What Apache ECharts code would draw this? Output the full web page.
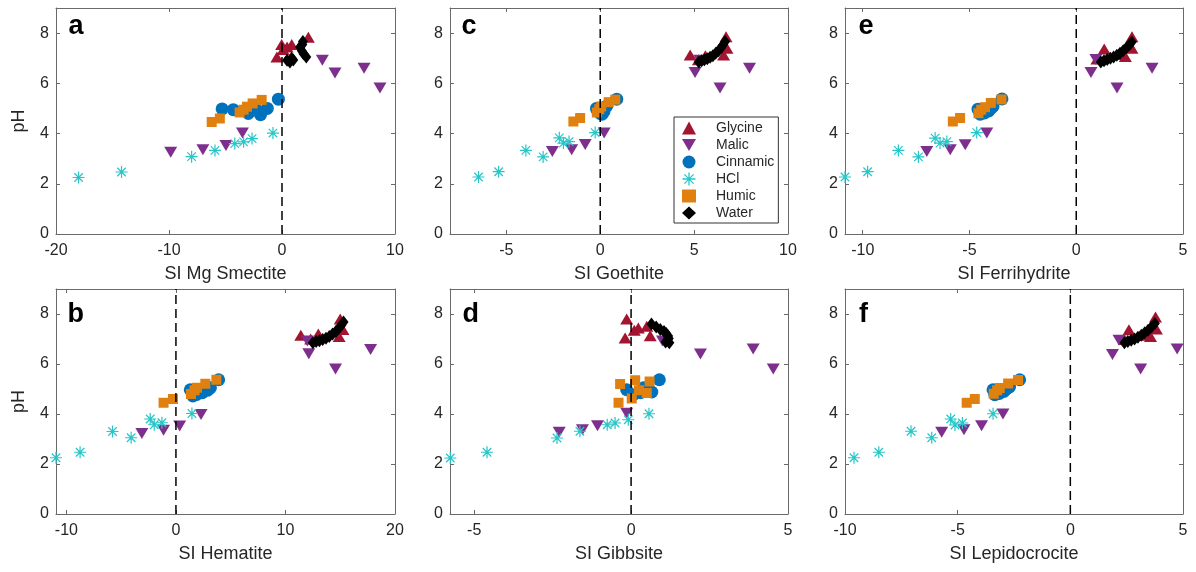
<!DOCTYPE html>
<html><head><meta charset="utf-8">
<script src="https://cdn.jsdelivr.net/npm/echarts@6/dist/echarts.min.js"></script>
<style>html,body{margin:0;padding:0;background:#fff}#c{width:1196px;height:572px}</style>
</head><body><div id="c"></div>
<script>
// ---------------- DATA (SI value, pH) ----------------
const seriesNames = ['Glycine', 'Malic', 'Cinnamic', 'HCl', 'Humic', 'Water'];
const yTicks = [0, 2, 4, 6, 8];
const yRange = [0, 9];
const zeroLine = [[0, 0], [0, 9]];

// panel a: SI Mg Smectite
const xRange_a = [-20, 10];
const xTicks_a = [-20, -10, 0, 10];
const glycine_a = [[-0.45,7.05],[0.1,7.35],[-0.03,7.55],[0.86,7.55],[0.45,7.45],[2.33,7.84]];
const malic_a = [[-9.85,3.26],[-7.0,3.36],[-4.96,3.52],[-3.5,4.02],[3.57,6.92],[4.69,6.41],[7.26,6.6],[8.67,5.81]];
const cinnamic_a = [[-5.3,4.98],[-4.31,4.95],[-2.98,4.8],[-2.3,4.95],[-1.9,4.75],[-1.3,5.0],[-0.32,5.37]];
const hcl_a = [[-18.0,2.25],[-14.2,2.47],[-8.0,3.08],[-5.93,3.33],[-4.18,3.6],[-3.4,3.67],[-2.65,3.8],[-0.8,4.02]];
const humic_a = [[-6.22,4.46],[-5.5,4.6],[-3.75,4.84],[-3.4,4.95],[-3.1,5.07],[-2.6,5.2],[-1.8,5.34]];
const water_a = [[0.45,6.92],[0.7,6.85],[1.0,6.93],[0.85,7.0],[2.15,7.05],[1.9,7.18],[1.75,7.3],[1.6,7.45],[1.8,7.55],[1.85,7.67]];

// panel b: SI Hematite
const xRange_b = [-10.95, 20];
const xTicks_b = [-10, 0, 10, 20];
const glycine_b = [[11.4,7.15],[12.3,7.0],[13.0,7.2],[14.9,7.1],[15.25,7.38],[15.0,7.8]];
const malic_b = [[-3.11,3.22],[-1.13,3.35],[0.34,3.52],[2.29,3.98],[12.0,6.92],[12.13,6.41],[14.57,5.8],[17.77,6.58]];
const cinnamic_b = [[1.31,4.97],[1.55,4.72],[1.9,4.78],[2.4,4.85],[2.9,4.95],[3.15,5.05],[3.9,5.37]];
const hcl_b = [[-10.95,2.25],[-8.75,2.47],[-4.09,3.05],[-5.79,3.3],[-1.98,3.57],[-1.28,3.65],[-2.35,3.8],[1.46,4.02]];
const humic_b = [[-1.13,4.45],[-0.27,4.6],[1.37,4.8],[1.7,4.95],[1.92,5.05],[2.68,5.21],[3.69,5.37]];
const water_b = [[12.5,6.85],[12.8,6.9],[13.1,6.93],[13.4,6.98],[13.7,7.03],[14.0,7.1],[14.3,7.2],[14.6,7.3],[14.85,7.42],[15.1,7.55],[15.3,7.68]];

// panel c: SI Goethite
const xRange_c = [-8, 10];
const xTicks_c = [-5, 0, 5, 10];
const glycine_c = [[4.79,7.13],[5.23,6.94],[5.6,7.1],[6.57,7.13],[6.75,7.4],[6.7,7.86]];
const malic_c = [[-2.55,3.29],[-1.52,3.36],[-0.8,3.56],[0.21,4.02],[5.3,6.92],[5.05,6.43],[6.38,5.81],[7.95,6.6]];
const cinnamic_c = [[-0.2,5.0],[-0.15,4.93],[0.0,4.8],[0.1,4.77],[0.2,4.88],[0.35,5.1],[0.88,5.37]];
const hcl_c = [[-6.48,2.27],[-5.41,2.48],[-3.04,3.07],[-3.96,3.33],[-1.96,3.62],[-1.66,3.68],[-2.18,3.83],[-0.27,4.04]];
const humic_c = [[-1.43,4.48],[-1.07,4.62],[-0.18,4.84],[-0.05,4.97],[0.05,5.08],[0.45,5.25],[0.8,5.35]];
const water_c = [[5.25,6.85],[5.4,6.9],[5.55,6.94],[5.7,6.98],[5.85,7.04],[6.0,7.1],[6.15,7.2],[6.3,7.3],[6.45,7.43],[6.55,7.55],[6.65,7.67]];

// panel d: SI Gibbsite
const xRange_d = [-5.77, 5];
const xTicks_d = [-5, 0, 5];
const glycine_d = [[-0.14,7.8],[-0.19,7.04],[0.1,7.35],[0.23,7.44],[0.5,7.51],[0.61,7.13]];
const malic_d = [[-2.29,3.27],[-1.55,3.37],[-1.07,3.53],[-0.14,4.03],[1.0,6.92],[2.21,6.4],[3.89,6.6],[4.53,5.8]];
const cinnamic_d = [[-0.14,4.97],[0.07,4.77],[0.3,4.85],[0.5,4.95],[0.66,4.88],[0.4,5.05],[0.9,5.37]];
const hcl_d = [[-5.76,2.24],[-4.59,2.47],[-2.36,3.04],[-1.63,3.31],[-0.76,3.57],[-0.51,3.64],[-0.09,3.77],[0.57,4.01]];
const humic_d = [[-0.4,4.45],[0.02,4.62],[0.5,4.84],[0.25,4.95],[0.13,5.35],[-0.35,5.2],[0.59,5.3]];
const water_d = [[0.65,7.6],[0.8,7.48],[0.93,7.38],[1.05,7.3],[1.12,7.22],[1.18,7.12],[1.2,7.02],[1.15,6.95],[1.1,6.88],[1.22,6.85]];

// panel e: SI Ferrihydrite
const xRange_e = [-10.83, 5];
const xTicks_e = [-10, -5, 0, 5];
const glycine_e = [[0.97,6.97],[1.31,7.37],[2.3,7.07],[2.0,7.15],[2.61,7.4],[2.61,7.86]];
const malic_e = [[-7.0,3.29],[-5.9,3.36],[-5.2,3.55],[-4.19,4.02],[0.92,6.95],[0.69,6.43],[1.91,5.81],[3.55,6.6]];
const cinnamic_e = [[-4.6,4.97],[-4.5,4.77],[-4.3,4.82],[-4.1,4.9],[-4.0,5.0],[-3.9,5.08],[-3.48,5.38]];
const hcl_e = [[-10.83,2.27],[-9.77,2.48],[-7.39,3.07],[-8.33,3.33],[-6.38,3.62],[-6.06,3.68],[-6.61,3.82],[-4.66,4.04]];
const humic_e = [[-5.78,4.48],[-5.44,4.62],[-4.58,4.81],[-4.45,4.95],[-4.27,5.05],[-4.0,5.22],[-3.5,5.36]];
const water_e = [[1.15,6.85],[1.3,6.9],[1.45,6.95],[1.6,7.0],[1.75,7.05],[1.9,7.12],[2.05,7.2],[2.2,7.3],[2.35,7.42],[2.5,7.55],[2.6,7.65]];

// panel f: SI Lepidocrocite
const xRange_f = [-10, 5];
const xTicks_f = [-10, -5, 0, 5];
const glycine_f = [[2.4,6.98],[2.6,7.37],[3.3,7.15],[3.56,7.1],[3.82,7.4],[3.78,7.88]];
const malic_f = [[-5.71,3.27],[-4.72,3.37],[-3.94,3.53],[-2.99,4.0],[2.16,6.95],[1.87,6.38],[3.12,5.8],[4.74,6.6]];
const cinnamic_f = [[-3.43,4.97],[-3.35,4.77],[-3.15,4.82],[-2.95,4.9],[-2.84,5.0],[-2.7,5.08],[-2.25,5.37]];
const hcl_f = [[-9.6,2.25],[-8.5,2.47],[-6.15,3.05],[-7.07,3.31],[-5.12,3.56],[-4.79,3.64],[-5.31,3.8],[-3.43,4.01]];
const humic_f = [[-4.6,4.45],[-4.24,4.6],[-3.4,4.81],[-3.25,4.95],[-3.13,5.04],[-2.76,5.22],[-2.32,5.36]];
const water_f = [[2.4,6.85],[2.55,6.9],[2.7,6.95],[2.85,7.0],[3.0,7.07],[3.15,7.15],[3.3,7.25],[3.45,7.35],[3.6,7.48],[3.75,7.62]];

// ---------------- STYLE / LAYOUT ----------------
const FONT = '"Liberation Sans", Arial, Helvetica, sans-serif';
const TXT = '#262626';
const AX = '#6a6a6a';
const ASTER = 'path://M0 9 L20 9 L20 11 L0 11 Z M9 0 L11 0 L11 20 L9 20 Z M3.64 2.22 L17.78 16.36 L16.36 17.78 L2.22 3.64 Z M2.22 16.36 L16.36 2.22 L17.78 3.64 L3.64 17.78 Z';
const styles = [
  {symbol: 'triangle', size: [13, 11], color: '#A2142F'},
  {symbol: 'path://M0 0 L20 0 L10 17 Z', size: [13, 11], color: '#7E2F8E'},
  {symbol: 'circle', size: 13, color: '#0072BD'},
  {symbol: ASTER, size: 12, color: '#27C6C8'},
  {symbol: 'rect', size: 10, color: '#E0800F'},
  {symbol: 'diamond', size: [10, 13], color: '#000000'}
];

const panels = [
  {letter: 'a', name: 'SI Mg Smectite', range: xRange_a, ticks: xTicks_a, data: [glycine_a, malic_a, cinnamic_a, hcl_a, humic_a, water_a], grid: {left: 56, top: 8, width: 339, height: 226}, pos: [68.5, 27], yName: true},
  {letter: 'b', name: 'SI Hematite', range: xRange_b, ticks: xTicks_b, data: [glycine_b, malic_b, cinnamic_b, hcl_b, humic_b, water_b], grid: {left: 56, top: 289, width: 339, height: 225}, pos: [67.5, 315], yName: true},
  {letter: 'c', name: 'SI Goethite', range: xRange_c, ticks: xTicks_c, data: [glycine_c, malic_c, cinnamic_c, hcl_c, humic_c, water_c], grid: {left: 450, top: 8, width: 338, height: 226}, pos: [461.5, 27], yName: false},
  {letter: 'd', name: 'SI Gibbsite', range: xRange_d, ticks: xTicks_d, data: [glycine_d, malic_d, cinnamic_d, hcl_d, humic_d, water_d], grid: {left: 450, top: 289, width: 338, height: 225}, pos: [462.5, 315], yName: false},
  {letter: 'e', name: 'SI Ferrihydrite', range: xRange_e, ticks: xTicks_e, data: [glycine_e, malic_e, cinnamic_e, hcl_e, humic_e, water_e], grid: {left: 845, top: 8, width: 338, height: 226}, pos: [858.5, 27], yName: false},
  {letter: 'f', name: 'SI Lepidocrocite', range: xRange_f, ticks: xTicks_f, data: [glycine_f, malic_f, cinnamic_f, hcl_f, humic_f, water_f], grid: {left: 845, top: 289, width: 338, height: 225}, pos: [859, 315], yName: false}
];

const grid = [], xAxis = [], yAxis = [], series = [], graphic = [];
const axLine = {show: true, onZero: false, lineStyle: {color: AX, width: 1}};
panels.forEach((p, i) => {
  grid.push(Object.assign({containLabel: false}, p.grid));
  const tick = (vals) => ({show: true, inside: true, length: 4, customValues: vals, lineStyle: {color: AX, width: 1}});
  xAxis.push({
    gridIndex: i, type: 'value', position: 'bottom', min: p.range[0], max: p.range[1],
    name: p.name, nameLocation: 'middle', nameGap: 31,
    nameTextStyle: {fontSize: 18, color: TXT, fontFamily: FONT},
    axisLine: axLine, axisTick: tick(p.ticks),
    axisLabel: {show: true, customValues: p.ticks, fontSize: 16, color: TXT, fontFamily: FONT, margin: 9},
    splitLine: {show: false}
  });
  xAxis.push({
    gridIndex: i, type: 'value', position: 'top', min: p.range[0], max: p.range[1],
    axisLine: axLine, axisTick: tick(p.ticks), axisLabel: {show: false}, splitLine: {show: false}
  });
  yAxis.push({
    gridIndex: i, type: 'value', position: 'left', min: yRange[0], max: yRange[1],
    name: p.yName ? 'pH' : '', nameLocation: 'middle', nameGap: 28,
    nameTextStyle: {fontSize: 18, color: TXT, fontFamily: FONT},
    axisLine: axLine, axisTick: tick(yTicks),
    axisLabel: {show: true, customValues: yTicks, fontSize: 16, color: TXT, fontFamily: FONT, margin: 7},
    splitLine: {show: false}
  });
  yAxis.push({
    gridIndex: i, type: 'value', position: 'right', min: yRange[0], max: yRange[1],
    axisLine: axLine, axisTick: tick(yTicks), axisLabel: {show: false}, splitLine: {show: false}
  });
  p.data.forEach((d, k) => {
    const s = styles[k];
    series.push({
      name: seriesNames[k], type: 'scatter', xAxisIndex: 2 * i, yAxisIndex: 2 * i,
      symbol: s.symbol, symbolSize: s.size, data: d,
      itemStyle: {color: s.color, opacity: 1}, z: 2 + k * 0.01, silent: true
    });
  });
  series.push({
    type: 'line', xAxisIndex: 2 * i, yAxisIndex: 2 * i, data: zeroLine, symbol: 'none',
    lineStyle: {color: '#000', width: 1.5, type: [9, 5]}, z: 5, silent: true
  });
  graphic.push({
    type: 'text', x: p.pos[0], y: p.pos[1], z: 100,
    style: {text: p.letter, font: 'bold 27px ' + FONT, fill: '#000', textAlign: 'left', textVerticalAlign: 'middle'}
  });
});

const chart = echarts.init(document.getElementById('c'), null, {renderer: 'canvas'});
chart.setOption({
  animation: false,
  backgroundColor: '#fff',
  grid, xAxis, yAxis, series, graphic,
  legend: {
    data: seriesNames, orient: 'vertical', left: 674, top: 117,
    padding: [4, 4, 3, 8], itemGap: 3, itemWidth: 14, itemHeight: 13,
    borderColor: '#333', borderWidth: 1, backgroundColor: '#fff',
    selectedMode: false,
    textStyle: {fontSize: 14, lineHeight: 13, color: TXT, fontFamily: FONT, padding: [0, 0, 0, 15]}
  }
});
</script>
</body></html>
